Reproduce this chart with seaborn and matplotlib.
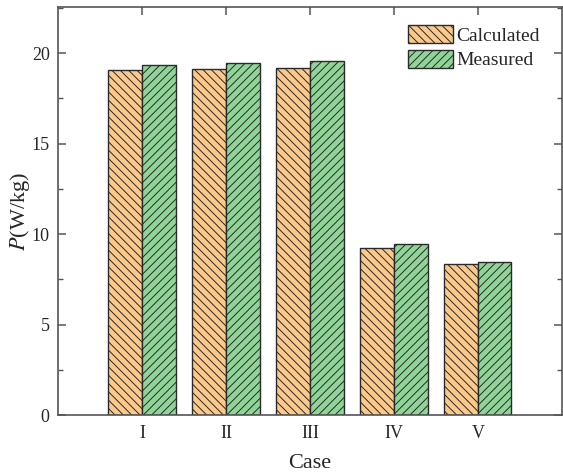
import matplotlib
matplotlib.use("Agg")
import matplotlib.pyplot as plt
import seaborn as sns
import pandas as pd
from matplotlib.ticker import MultipleLocator
from matplotlib.patches import Patch

cases = ["I", "II", "III", "IV", "V"]
calculated = [19.06, 19.11, 19.17, 9.25, 8.37]
measured = [19.33, 19.45, 19.56, 9.47, 8.48]
series = ["Calculated", "Measured"]

df = pd.DataFrame({
    "Case": cases * 2,
    "P": calculated + measured,
    "Series": [series[0]] * len(cases) + [series[1]] * len(cases),
})

sns.set_style("ticks")
plt.rcParams["font.family"] = ["Liberation Serif", "DejaVu Serif"]
plt.rcParams["mathtext.fontset"] = "stix"
plt.rcParams["hatch.linewidth"] = 0.7

colors = {"Calculated": "#fcc98c", "Measured": "#8fd597"}
hatches = {"Calculated": "\\\\\\\\", "Measured": "////"}
hatch_colors = {"Calculated": "#6a5c4c", "Measured": "#4f6a50"}
edge_color = "#2a2a2a"

fig = plt.figure(figsize=(5.63, 4.76), dpi=100)
ax = fig.add_axes([0.103, 0.128, 0.895, 0.857])

sns.barplot(data=df, x="Case", y="P", hue="Series", palette=colors, saturation=1,
            width=0.8, edgecolor=edge_color, linewidth=1.0, ax=ax, legend=False)

def style_hatch(p, s):
    p.set_hatch(hatches[s])
    if hasattr(p, "set_hatchcolor"):
        p.set_hatchcolor(hatch_colors[s])

for container, s in zip(ax.containers, series):
    for bar in container:
        style_hatch(bar, s)

ax.set_xlim(-1, 5)
ax.set_ylim(0, 22.55)
ax.yaxis.set_major_locator(MultipleLocator(5))
ax.yaxis.set_minor_locator(MultipleLocator(2.5))

for sp in ax.spines.values():
    sp.set_visible(True)
    sp.set_color("#555555")
    sp.set_linewidth(1.2)

ax.tick_params(axis="both", which="major", direction="in", length=6, width=1.1,
               color="#555555", labelsize=13, top=True, right=True, pad=6)
ax.tick_params(axis="y", which="minor", direction="in", length=3.5, width=1.0,
               color="#555555", right=True, left=True)
ax.tick_params(axis="x", which="major", pad=7)

ax.set_xlabel("Case", fontsize=16, labelpad=9)
ax.set_ylabel("$P$(W/kg)", fontsize=16, labelpad=0)

handles = []
for s in series:
    h = Patch(facecolor=colors[s], edgecolor=edge_color, linewidth=1.0)
    style_hatch(h, s)
    handles.append(h)
ax.legend(handles, series, loc="upper right", frameon=False, fontsize=14,
          handlelength=2.3, handleheight=1.05, handletextpad=0.2, labelspacing=0.25,
          borderaxespad=0.0, bbox_to_anchor=(0.972, 0.975))

fig.savefig("out.png", dpi=100)
